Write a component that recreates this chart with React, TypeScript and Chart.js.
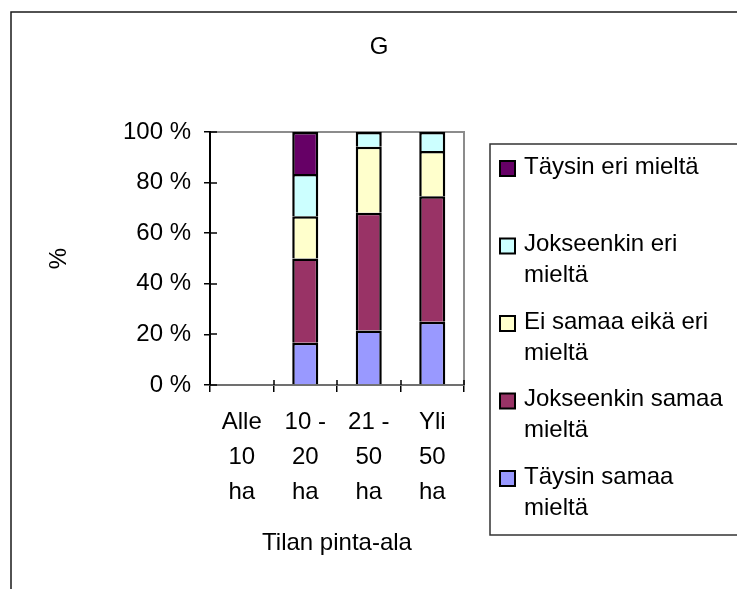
import React, { useEffect, useRef } from "react";
import { Chart, registerables } from "chart.js";

Chart.register(...registerables);

const chartTitle = "G";
const xAxisTitle = "Tilan pinta-ala";
const yAxisTitle = "%";
const categories = [
  ["Alle", "10", "ha"],
  ["10 -", "20", "ha"],
  ["21 -", "50", "ha"],
  ["Yli", "50", "ha"],
];
const yTicks = [0, 20, 40, 60, 80, 100];

// series from bottom of stack to top
const seriesLabelLines = [
  ["Täysin samaa", "mieltä"],
  ["Jokseenkin samaa", "mieltä"],
  ["Ei samaa eikä eri", "mieltä"],
  ["Jokseenkin eri", "mieltä"],
  ["Täysin eri mieltä"],
];
const seriesColors = ["#9999FF", "#993366", "#FFFFCC", "#CCFFFF", "#660066"];

const taysinSamaa = [null, 16.7, 21.5, 25.0];
const jokseenkinSamaa = [null, 33.3, 46.6, 49.6];
const eiSamaaEikaEri = [null, 16.7, 26.1, 17.9];
const jokseenkinEri = [null, 16.7, 5.8, 7.5];
const taysinEri = [null, 16.6, null, null];

const seriesValues = [taysinSamaa, jokseenkinSamaa, eiSamaaEikaEri, jokseenkinEri, taysinEri];

const FONT = "'Liberation Sans', Arial, sans-serif";
const FS = 24;

const framePlugin = {
  id: "frame",
  beforeDraw(chart: any) {
    const { ctx, chartArea } = chart;
    ctx.save();
    // outer chart border
    ctx.strokeStyle = "#1a1a1a";
    ctx.lineWidth = 1.5;
    ctx.strokeRect(11, 12, 900, 800);
    // plot area border
    ctx.strokeStyle = "#8c8c8c";
    ctx.lineWidth = 2;
    ctx.strokeRect(chartArea.left, chartArea.top, chartArea.right - chartArea.left, chartArea.bottom - chartArea.top);
    // title
    ctx.fillStyle = "#000";
    ctx.font = `${FS}px ${FONT}`;
    ctx.textAlign = "center";
    ctx.textBaseline = "middle";
    ctx.fillText(chartTitle, 379, 47);
    ctx.restore();
  },
  afterDraw(chart: any) {
    const { ctx, chartArea } = chart;
    const x = chart.scales.x;
    const y = chart.scales.y;
    ctx.save();
    ctx.strokeStyle = "#000";
    ctx.lineWidth = 1.5;
    // inward tick portions
    y.ticks.forEach((t: any) => {
      const py = Math.round(y.getPixelForValue(t.value));
      ctx.beginPath();
      ctx.moveTo(chartArea.left, py);
      ctx.lineTo(chartArea.left + 7, py);
      ctx.stroke();
    });
    const half = (x.getPixelForValue(1) - x.getPixelForValue(0)) / 2;
    for (let i = 0; i <= categories.length; i++) {
      const px = Math.round(x.getPixelForValue(i) - half);
      ctx.beginPath();
      ctx.moveTo(px, chartArea.bottom);
      ctx.lineTo(px, chartArea.bottom - 5);
      ctx.stroke();
    }
    // legend
    ctx.strokeStyle = "#333";
    ctx.lineWidth = 1.5;
    ctx.strokeRect(490, 144, 400, 391);
    ctx.font = `${FS}px ${FONT}`;
    ctx.textAlign = "left";
    ctx.textBaseline = "middle";
    const n = chart.data.datasets.length;
    for (let k = 0; k < n; k++) {
      const di = n - 1 - k;
      const cy = 167 + k * 77.5;
      ctx.fillStyle = chart.data.datasets[di].backgroundColor;
      ctx.fillRect(500, cy - 6, 15, 15);
      ctx.strokeStyle = "#000";
      ctx.lineWidth = 2;
      ctx.strokeRect(500, cy - 6, 15, 15);
      ctx.fillStyle = "#000";
      seriesLabelLines[di].forEach((line, li) => {
        ctx.fillText(line, 524, cy + li * 31);
      });
    }
    ctx.restore();
  },
};

export default function App() {
  const ref = useRef<HTMLCanvasElement>(null);
  useEffect(() => {
    const canvas = ref.current;
    if (!canvas) return;
    const chart = new Chart(canvas, {
      type: "bar",
      data: {
        labels: categories,
        datasets: seriesValues.map((vals, i) => ({
          label: seriesLabelLines[i].join(" "),
          data: vals,
          backgroundColor: seriesColors[i],
          borderColor: "#000",
          borderWidth: 2.5,
          barPercentage: 0.41,
          categoryPercentage: 1,
        })),
      },
      options: {
        animation: false,
        responsive: false,
        devicePixelRatio: 1,
        layout: { padding: { left: 0, top: 132, right: 273, bottom: 0 } },
        plugins: {
          legend: { display: false },
          title: { display: false },
          tooltip: { enabled: false },
        },
        scales: {
          x: {
            stacked: true,
            afterFit: (s: any) => {
              s.height = 204;
            },
            grid: {
              display: true,
              offset: true,
              drawOnChartArea: false,
              drawTicks: true,
              tickLength: 7,
              color: "#000",
              lineWidth: 1.5,
            },
            border: { display: true, color: "#707070", width: 2 },
            ticks: {
              autoSkip: false,
              maxRotation: 0,
              minRotation: 0,
              padding: 12.5,
              color: "#000",
              font: { family: FONT, size: FS, lineHeight: 1.46 },
            },
            title: {
              display: true,
              text: xAxisTitle,
              color: "#000",
              font: { family: FONT, size: FS, lineHeight: 1.2 },
              padding: { top: 0, bottom: 31.6 },
            },
          },
          y: {
            stacked: true,
            min: 0,
            max: 100,
            afterFit: (s: any) => {
              s.width = 210;
            },
            afterBuildTicks: (s: any) => {
              s.ticks = yTicks.map((v) => ({ value: v }));
            },
            grid: {
              display: true,
              drawOnChartArea: false,
              drawTicks: true,
              tickLength: 6,
              color: "#000",
              lineWidth: 1.5,
            },
            border: { display: true, color: "#000", width: 2 },
            ticks: {
              padding: 13,
              color: "#000",
              font: { family: FONT, size: FS },
              callback: (v: any) => `${v} %`,
            },
            title: {
              display: true,
              text: yAxisTitle,
              color: "#000",
              font: { family: FONT, size: FS, lineHeight: 1.2 },
              padding: { top: 44.6, bottom: 0 },
            },
          },
        },
      },
      plugins: [framePlugin],
    });
    return () => chart.destroy();
  }, []);
  return (
    <div style={{ position: "absolute", left: 0, top: 0, width: 737, height: 589, overflow: "hidden", background: "#fff" }}>
      <canvas ref={ref} width={737} height={589} style={{ display: "block" }} />
    </div>
  );
}
